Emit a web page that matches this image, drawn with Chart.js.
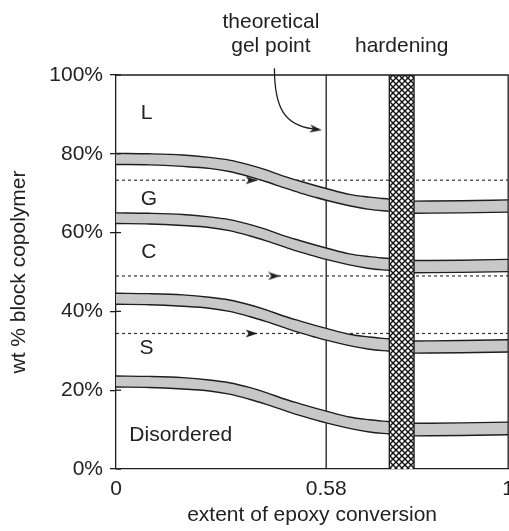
<!DOCTYPE html>
<html><head><meta charset="utf-8">
<script src="https://cdn.jsdelivr.net/npm/chart.js@4/dist/chart.umd.min.js"></script>
<style>
html,body{margin:0;padding:0;background:#fff;overflow:hidden;}
canvas{display:block;}
</style></head><body>
<canvas id="c" width="522" height="531" style="width:522px;height:531px;"></canvas>
<script>
// ---- data ----
const xTickValues = [0, 0.536, 1];          // positions along the schematic axis
const xTickLabels = ['0', '0.58', '1'];
const yTickValues = [0, 20, 40, 60, 80, 100];
const yTickLabels = ['0%', '20%', '40%', '60%', '80%', '100%'];

const bandX = [0, 0.085, 0.170, 0.238, 0.289, 0.340, 0.383, 0.425, 0.468, 0.510, 0.536, 0.595, 0.646, 0.697];
const band1Upper = [80.1, 80.0, 79.7, 79.1, 78.4, 77.2, 75.9, 74.4, 73.1, 71.9, 71.2, 69.7, 69.0, 68.5];
const band1Lower = [77.3, 77.2, 76.8, 76.3, 75.5, 74.2, 72.9, 71.5, 70.1, 68.9, 68.2, 66.8, 65.9, 65.4];
const band2Upper = [65.0, 64.9, 64.6, 64.0, 63.3, 62.1, 60.8, 59.3, 58.0, 56.8, 56.1, 54.6, 53.9, 53.4];
const band2Lower = [62.3, 62.2, 61.8, 61.3, 60.5, 59.2, 57.9, 56.5, 55.1, 53.9, 53.2, 51.8, 50.9, 50.4];
const band3Upper = [44.6, 44.5, 44.2, 43.6, 42.9, 41.7, 40.4, 38.9, 37.6, 36.4, 35.7, 34.2, 33.5, 33.0];
const band3Lower = [41.8, 41.7, 41.3, 40.8, 40.0, 38.7, 37.4, 36.0, 34.6, 33.4, 32.7, 31.3, 30.4, 29.9];
const band4Upper = [23.6, 23.5, 23.2, 22.6, 21.9, 20.7, 19.4, 17.9, 16.6, 15.4, 14.7, 13.2, 12.5, 12.0];
const band4Lower = [20.8, 20.7, 20.3, 19.8, 19.0, 17.7, 16.4, 15.0, 13.6, 12.4, 11.7, 10.3, 9.4, 8.9];

const bandRightX = [0.760, 0.880, 1.0];
const band1RightUpper = [68.0, 68.1, 68.3];
const band1RightLower = [64.9, 65.0, 65.2];
const band2RightUpper = [52.9, 53.0, 53.2];
const band2RightLower = [49.8, 49.9, 50.1];
const band3RightUpper = [32.5, 32.6, 32.8];
const band3RightLower = [29.4, 29.5, 29.7];
const band4RightUpper = [11.6, 11.7, 11.9];
const band4RightLower = [8.4, 8.5, 8.7];

const hatchX = [0.697, 0.760];
const hatchY = [0, 100];
const gelPointX = 0.536;
const dottedY = [73.3, 49.0, 34.4];
const arrowX = [0.361, 0.419, 0.361];

const regionNames = ['L', 'G', 'C', 'S', 'Disordered'];
const regionX = [0.078, 0.084, 0.084, 0.078, 0.165];
const regionY = [90.4, 68.6, 55.1, 30.7, 8.6];

const noteTexts = ['theoretical', 'gel point', 'hardening'];
const noteX = [0.395, 0.395, 0.7285];
const noteY = [111.85, 105.85, 105.85];
// curved arrow to the gel point line: start, control 1, control 2, end (data units)
const gelArrowX = [0.404, 0.404, 0.431, 0.525];
const gelArrowY = [101.7, 91.4, 87.3, 86.0];

// ---- styling helpers ----
const INK = '#1e1e1e';
const FONT = '"Liberation Sans", Arial, Helvetica, sans-serif';
Chart.defaults.font.family = FONT;
Chart.defaults.font.size = 21;
Chart.defaults.color = '#222';

function makeArrow() {
  const c = document.createElement('canvas');
  c.width = 24; c.height = 9;
  const g = c.getContext('2d');
  g.fillStyle = INK;
  g.beginPath();
  g.moveTo(12, 4.5); g.lineTo(0, 0.5); g.lineTo(3, 4.5); g.lineTo(0, 8.5); g.closePath();
  g.fill();
  return c;
}
const arrowImg = makeArrow();

function makeHatch() {
  const c = document.createElement('canvas');
  c.width = 6; c.height = 6;
  const g = c.getContext('2d');
  g.fillStyle = '#fff'; g.fillRect(0, 0, 6, 6);
  g.strokeStyle = '#111'; g.lineWidth = 1.4;
  g.beginPath();
  g.moveTo(-1, -1); g.lineTo(7, 7);
  g.moveTo(7, -1); g.lineTo(-1, 7);
  g.stroke();
  return c.getContext('2d').createPattern(c, 'repeat');
}

const pts = (xs, ys) => xs.map((x, i) => ({x: x, y: ys[i]}));

const datasets = [];
// arrowheads on dotted lines (topmost)
datasets.push({
  type: 'scatter', data: pts(arrowX, dottedY), pointStyle: arrowImg,
  pointRadius: 6, showLine: false
});
// hardening hatch
datasets.push({
  data: pts([hatchX[0], hatchX[0], hatchX[1], hatchX[1]], [hatchY[0], hatchY[1], hatchY[1], hatchY[0]]),
  borderColor: INK, borderWidth: 1.4, tension: 0, fill: 'origin',
  backgroundColor: makeHatch(), pointRadius: 0
});
// bands: upper then lower (lower fills to upper)
const bandDefs = [
  [bandX, band1Upper, band1Lower], [bandRightX, band1RightUpper, band1RightLower],
  [bandX, band2Upper, band2Lower], [bandRightX, band2RightUpper, band2RightLower],
  [bandX, band3Upper, band3Lower], [bandRightX, band3RightUpper, band3RightLower],
  [bandX, band4Upper, band4Lower], [bandRightX, band4RightUpper, band4RightLower]
];
bandDefs.forEach(([xs, up, lo]) => {
  datasets.push({data: pts(xs, up), borderColor: INK, borderWidth: 1.4,
    cubicInterpolationMode: 'monotone', pointRadius: 0, fill: false});
  datasets.push({data: pts(xs, lo), borderColor: INK, borderWidth: 1.4,
    cubicInterpolationMode: 'monotone', pointRadius: 0, fill: '-1', backgroundColor: '#c8c8c8'});
});
// gel point vertical line
datasets.push({data: pts([gelPointX, gelPointX], [0, 100]), borderColor: INK,
  borderWidth: 1.3, pointRadius: 0, tension: 0, fill: false});
// dotted lines
dottedY.forEach(v => {
  datasets.push({data: pts([0, 1], [v, v]), borderColor: '#333', borderWidth: 1.2,
    borderDash: [3, 3], pointRadius: 0, tension: 0, fill: false});
});

const overlay = {
  id: 'overlay',
  afterDraw(chart) {
    const {ctx, chartArea: a} = chart;
    const sx = chart.scales.x, sy = chart.scales.y;
    ctx.save();
    ctx.strokeStyle = INK; ctx.lineWidth = 1.3;
    ctx.beginPath();
    ctx.moveTo(a.left, a.top); ctx.lineTo(a.right, a.top); ctx.lineTo(a.right, a.bottom);
    ctx.stroke();
    yTickValues.forEach(v => {
      const py = sy.getPixelForValue(v);
      ctx.beginPath(); ctx.moveTo(a.left, py); ctx.lineTo(a.left + 5, py); ctx.stroke();
    });
    ctx.fillStyle = '#222';
    ctx.font = '21px ' + FONT;
    ctx.textAlign = 'center';
    ctx.textBaseline = 'middle';
    regionNames.forEach((n, i) => ctx.fillText(n, sx.getPixelForValue(regionX[i]), sy.getPixelForValue(regionY[i])));
    ctx.textBaseline = 'alphabetic';
    noteTexts.forEach((n, i) => ctx.fillText(n, sx.getPixelForValue(noteX[i]), sy.getPixelForValue(noteY[i])));
    // curved arrow
    const P = gelArrowX.map((x, i) => [sx.getPixelForValue(x), sy.getPixelForValue(gelArrowY[i])]);
    const ang = Math.atan2(P[3][1] - P[2][1], P[3][0] - P[2][0]);
    const endX = P[3][0] - Math.cos(ang) * 9, endY = P[3][1] - Math.sin(ang) * 9;
    ctx.lineWidth = 1.3;
    ctx.beginPath();
    ctx.moveTo(P[0][0], P[0][1]);
    ctx.bezierCurveTo(P[1][0], P[1][1], P[2][0], P[2][1], endX, endY);
    ctx.stroke();
    ctx.translate(P[3][0], P[3][1]); ctx.rotate(ang);
    ctx.drawImage(arrowImg, -12, -4.5);
    ctx.restore();
  }
};

new Chart(document.getElementById('c'), {
  type: 'line',
  data: {datasets: datasets},
  options: {
    responsive: false, maintainAspectRatio: false, animation: false,
    devicePixelRatio: 1,
    layout: {padding: {top: 75, left: 0, right: 0, bottom: 0}},
    plugins: {legend: {display: false}, tooltip: {enabled: false}},
    scales: {
      x: {
        type: 'linear', min: 0, max: 1,
        afterBuildTicks: s => { s.ticks = xTickValues.map(v => ({value: v})); },
        afterFit: s => { s.height = 62; },
        ticks: {padding: 8, maxRotation: 0, autoSkip: false, color: '#222',
          callback: v => xTickLabels[xTickValues.indexOf(v)]},
        grid: {display: false, drawTicks: false},
        border: {display: true, color: INK, width: 1.3},
        title: {display: true, text: 'extent of epoxy conversion', color: '#222',
          padding: {top: 0, bottom: 3}}
      },
      y: {
        type: 'linear', min: 0, max: 100,
        afterBuildTicks: s => { s.ticks = yTickValues.map(v => ({value: v})); },
        afterFit: s => { s.width = 116; },
        ticks: {padding: 7, color: '#222',
          callback: v => yTickLabels[yTickValues.indexOf(v)]},
        grid: {drawOnChartArea: false, tickLength: 6, color: INK, lineWidth: 1.3},
        border: {display: true, color: INK, width: 1.3},
        title: {display: true, text: 'wt % block copolymer', color: '#222',
          padding: {top: 7, bottom: 17}}
      }
    }
  },
  plugins: [overlay]
});
</script>
</body></html>
